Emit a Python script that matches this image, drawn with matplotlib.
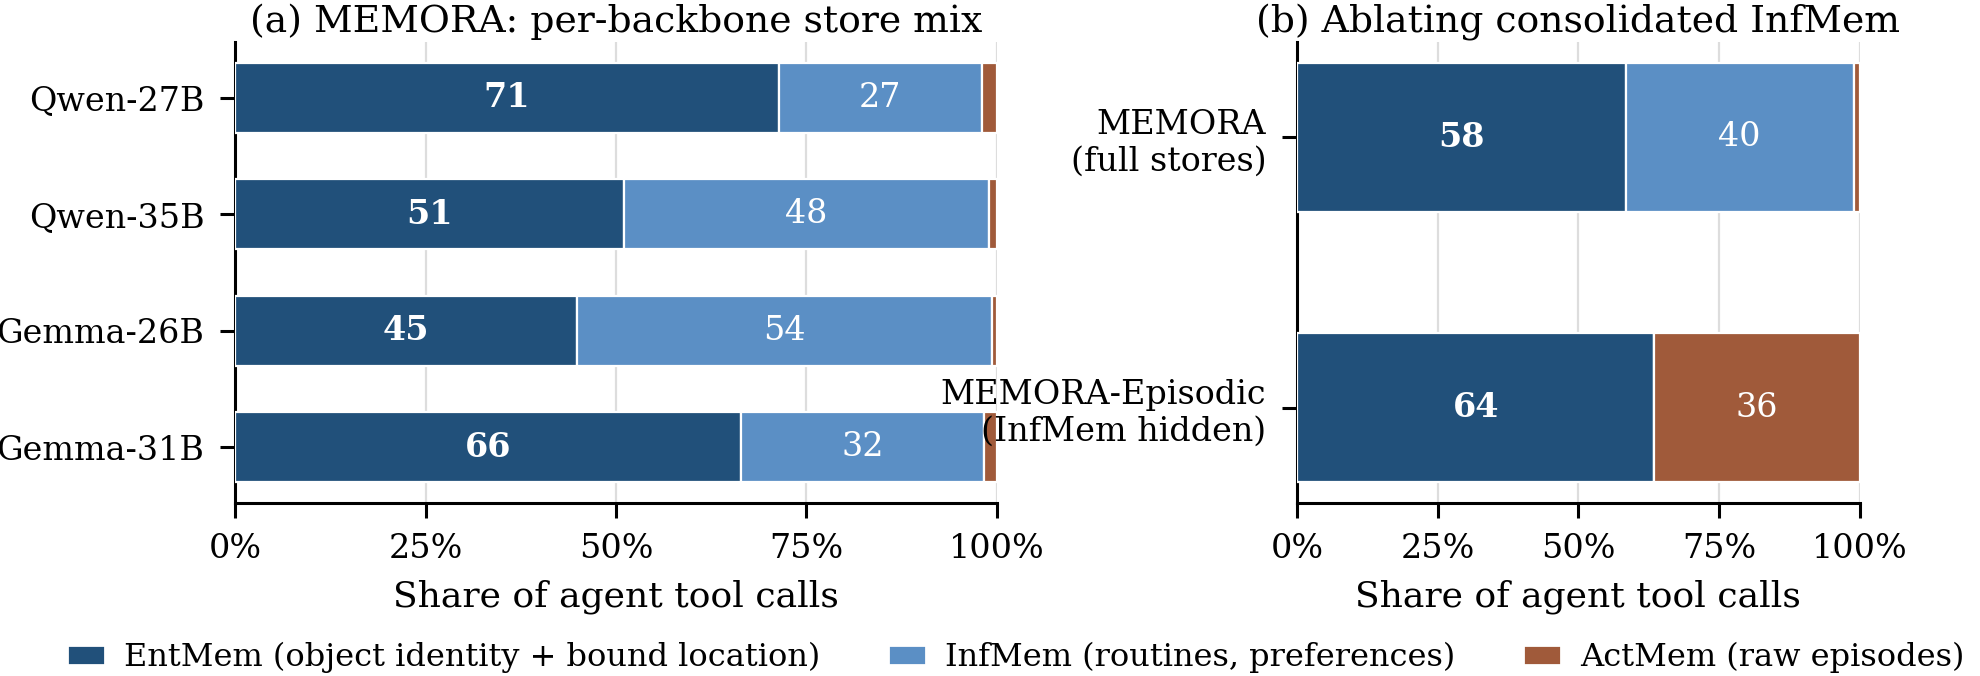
import numpy as np
import matplotlib
matplotlib.use("Agg")
import matplotlib.pyplot as plt
from matplotlib.patches import Patch

plt.rcParams['font.family'] = ['DejaVu Serif']

# panel (a) data
backbones = ["Qwen-27B", "Qwen-35B", "Gemma-26B", "Gemma-31B"]
ent_a = [71.4, 51.0, 44.9, 66.4]
inf_a = [26.6, 47.9, 54.5, 31.9]
act_a = [2.0, 1.1, 0.6, 1.7]

# panel (b) data
variants = ["MEMORA\n(full stores)", "MEMORA-Episodic\n(InfMem hidden)"]
ent_b = [58.4, 63.5]
inf_b = [40.5, 0.0]
act_b = [1.1, 36.5]

legend_labels = ["EntMem (object identity + bound location)",
                 "InfMem (routines, preferences)",
                 "ActMem (raw episodes)"]
colors = ["#21507a", "#5b8fc5", "#a05a3a"]

fig = plt.figure(figsize=(9.9, 3.38), dpi=200)
axa = fig.add_axes([0.1187, 0.256, 0.3848, 0.682])
axb = fig.add_axes([0.655, 0.256, 0.2843, 0.682])


def draw(ax, cats, series, height, title):
    y = np.arange(len(cats))
    left = np.zeros(len(cats))
    for i, vals in enumerate(series):
        vals = np.array(vals)
        bars = ax.barh(y, vals, left=left, height=height, color=colors[i],
                       edgecolor="white", linewidth=0.8, zorder=3)
        for b, v in zip(bars, vals):
            if v >= 5:
                ax.text(b.get_x() + b.get_width() / 2, b.get_y() + b.get_height() / 2,
                        "%d" % round(v), ha="center", va="center", color="white",
                        fontsize=12, fontweight="bold" if i == 0 else "normal", zorder=4)
        left = left + vals
    ax.set_yticks(y)
    ax.set_yticklabels(cats, fontsize=12, multialignment="right")
    ax.invert_yaxis()
    ax.set_xlim(0, 100)
    ax.set_xticks([0, 25, 50, 75, 100])
    ax.set_xticklabels(["0%", "25%", "50%", "75%", "100%"], fontsize=12)
    ax.tick_params(axis="both", length=5.5, width=1.1, pad=5.5)
    ax.set_xlabel("Share of agent tool calls", fontsize=13, labelpad=5)
    ax.set_title(title, fontsize=13.6, pad=3.5)
    ax.grid(axis="x", color="#dddddd", linewidth=0.8, zorder=0)
    ax.spines["top"].set_visible(False)
    ax.spines["right"].set_visible(False)
    ax.spines["left"].set_linewidth(1.1)
    ax.spines["bottom"].set_linewidth(1.1)
    ax.set_axisbelow(True)


draw(axa, backbones, [ent_a, inf_a, act_a], 0.6, "(a) MEMORA: per-backbone store mix")
draw(axb, variants, [ent_b, inf_b, act_b], 0.55, "(b) Ablating consolidated InfMem")

handles = [Patch(facecolor=c, edgecolor="white") for c in colors]
fig.legend(handles, legend_labels, loc="lower center", ncol=3, frameon=False,
           fontsize=11.5, bbox_to_anchor=(0.513, -0.038), handlelength=1.2, handleheight=0.6,
           handletextpad=0.6, columnspacing=2.1)

fig.savefig("out.png", dpi=200)
